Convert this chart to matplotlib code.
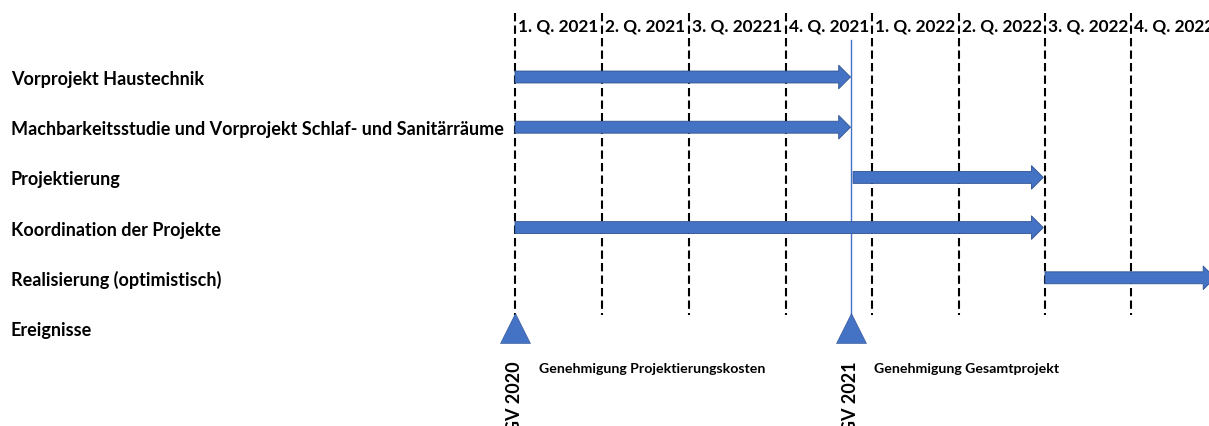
import numpy as np
import matplotlib
matplotlib.use("Agg")
import matplotlib.pyplot as plt

# ---------------- data ----------------
quarters = ["1. Q. 2021", "2. Q. 2021", "3. Q. 20221", "4. Q. 2021",
            "1. Q. 2022", "2. Q. 2022", "3. Q. 2022", "4. Q. 2022"]
tasks = ["Vorprojekt Haustechnik",
         "Machbarkeitsstudie und Vorprojekt Schlaf- und Sanitärräume",
         "Projektierung",
         "Koordination der Projekte",
         "Realisierung (optimistisch)",
         "Ereignisse"]
# start / end in quarter units (0 = start of 1. Q. 2021)
task_start = [0.0, 0.0, 3.78, 0.0, 6.0]
task_end = [3.75, 3.75, 5.98, 5.98, 8.0]
event_pos = [0.0, 3.75]
event_names = ["GV 2020", "GV 2021"]
event_desc = ["Genehmigung Projektierungskosten", "Genehmigung Gesamtprojekt"]

# ---------------- layout ----------------
W, H, DPI = 1209, 426, 100
# column edges (pixels) of the quarter columns - layout only
col_edges_px = np.array([515, 602, 689, 786, 872, 959, 1045, 1131, 1215], float)
q_edges = np.arange(len(col_edges_px), dtype=float)
q_ext = np.concatenate([[-20.0], q_edges, [30.0]])
px_ext = np.concatenate([[col_edges_px[0] - 20 * 87], col_edges_px,
                         [col_edges_px[-1] + 22 * 86]])

def fwd(q):
    return np.interp(q, q_ext, px_ext)

def inv(p):
    return np.interp(p, px_ext, q_ext)

row0_px, row_step_px = 77.0, 50.2

BLUE = "#4472C4"
EDGE = "#2F528F"
FONT = "Lato"

fig = plt.figure(figsize=(W / DPI, H / DPI), dpi=DPI)
ax = fig.add_axes([0, 0, 1, 1])
ax.set_xscale("function", functions=(fwd, inv))
ax.set_xlim(inv(0), inv(W))
ax.set_ylim((H - row0_px) / row_step_px, (0 - row0_px) / row_step_px)
ax.axis("off")

def prow(p):
    return (p - row0_px) / row_step_px

# dashed quarter separators
for q in range(len(quarters)):
    ax.plot([q, q], [prow(13), prow(315)], color="black", lw=1.5,
            dashes=(4, 2), solid_capstyle="butt", dash_capstyle="butt")
    ax.annotate(quarters[q], xy=(q, prow(27)), xytext=(2.0, 0),
                textcoords="offset points", ha="left", va="center",
                fontsize=12.4, fontweight="bold", family=FONT,
                annotation_clip=False)

# event line (GV 2021)
ax.plot([event_pos[1], event_pos[1]], [prow(40), prow(322)], color=BLUE, lw=1.0)

# task labels
for i, t in enumerate(tasks):
    ax.text(inv(11), i + 0.05, t, ha="left", va="center", fontsize=13.0,
            fontweight="bold", family=FONT)

# arrows
for i, (s, e) in enumerate(zip(task_start, task_end)):
    ax.annotate("", xy=(e, i), xytext=(s, i), annotation_clip=False,
                arrowprops=dict(arrowstyle="simple,head_length=8.5,head_width=17,tail_width=8.6",
                                mutation_scale=1, fc=BLUE, ec=EDGE, lw=0.6,
                                shrinkA=0, shrinkB=0))

# events
ev_row = len(tasks) - 1
for x, name, desc in zip(event_pos, event_names, event_desc):
    ax.plot([x], [ev_row], marker="^", markersize=21, color=BLUE,
            markeredgecolor=EDGE, markeredgewidth=0.4, linestyle="none")
    ax.text(x, prow(361), name, rotation=90, ha="center", va="top",
            fontsize=13, fontweight="bold", family=FONT)
    ax.annotate(desc, xy=(x, prow(369)), xytext=(17, 0),
                textcoords="offset points", ha="left", va="center",
                fontsize=10.2, fontweight="bold", family=FONT)

fig.savefig("out.png", dpi=DPI)
